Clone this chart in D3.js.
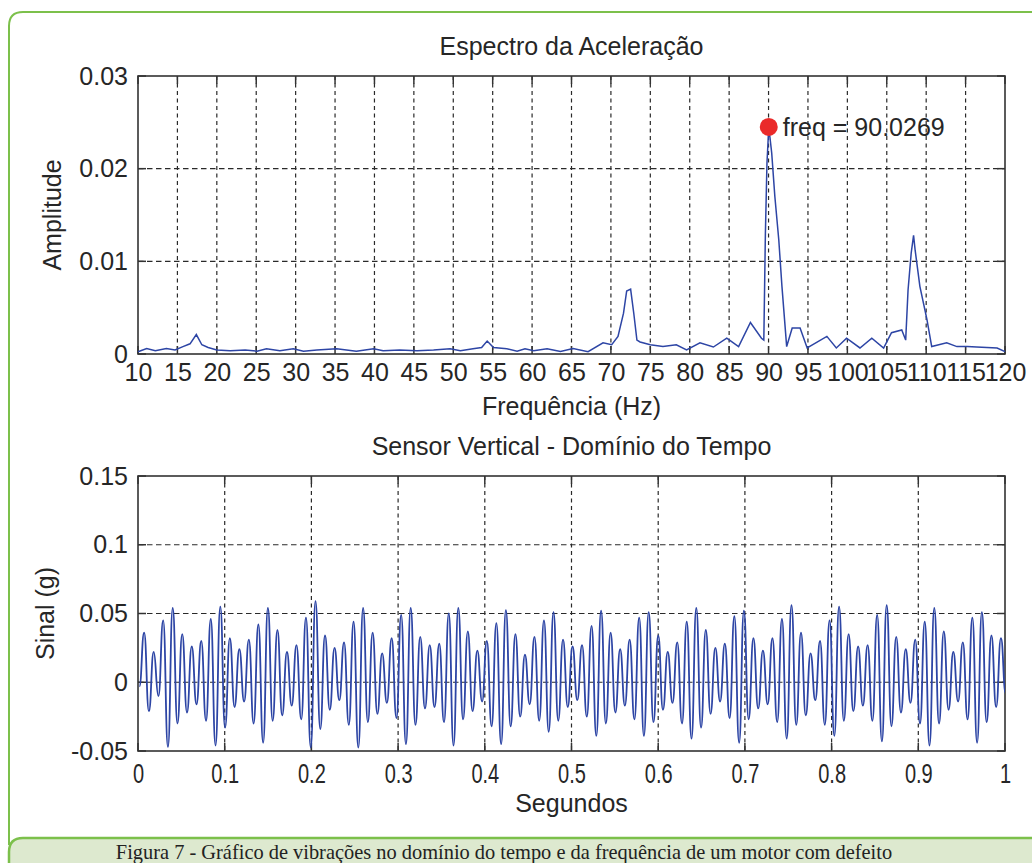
<!DOCTYPE html>
<html>
<head>
<meta charset="utf-8">
<script src="https://cdn.jsdelivr.net/npm/d3@7"></script>
<style>
    body { margin: 0; background: #fff; }
    svg { display: block; }
    text { font-family: "Liberation Sans", Arial, sans-serif; fill: #262626; }
</style>
</head>
<body>
<div id="vis"></div>
<script>
// spectrum
const specFreq = [10, 11.1, 12.2, 13.6, 14.7, 15.7, 16.6, 17.4, 18.1, 18.9, 20, 21.7, 23.6, 25.1, 26.3, 28,
    29.7, 31, 32.7, 35.2, 37.7, 39.9, 41.1, 43.2, 45.4, 47.5, 49.6, 50.9, 52.5, 53.6, 54.3, 55.1, 56.8,
    58.1, 59.1, 60.2, 61.9, 63.6, 65.2, 67.1, 69, 70.1, 70.9, 71.6, 72, 72.5, 72.9, 73.3, 73.7, 75, 76.6,
    78.3, 79.6, 81.3, 83, 84.7, 86.2, 87.7, 89.1, 89.4, 89.6, 89.8, 90.03, 90.4, 90.8, 91.3, 91.7, 92.3,
    93, 94, 94.9, 97.4, 98.6, 99.9, 101.6, 103.1, 104.6, 105.6, 106.9, 107.4, 107.7, 108.1, 108.4, 108.6,
    109.2, 110.1, 110.7, 112.6, 113.9, 115.2, 116.4, 119, 120];
const specAmp = [0.00025, 0.0006, 0.00036, 0.0006, 0.00043, 0.0008, 0.0011, 0.0021, 0.001, 0.0007, 0.00043,
    0.00036, 0.00043, 0.0003, 0.00057, 0.00036, 0.00057, 0.0003, 0.00043, 0.00057, 0.0003, 0.00057, 0.00036,
    0.00043, 0.00036, 0.00043, 0.00057, 0.00036, 0.00057, 0.0007, 0.0014, 0.0007, 0.00057, 0.0003, 0.00057,
    0.00036, 0.00057, 0.00027, 0.0006, 0.00025, 0.0012, 0.001, 0.0019, 0.0044, 0.0068, 0.007, 0.0044, 0.0015,
    0.0013, 0.001, 0.0008, 0.001, 0.00043, 0.0012, 0.00075, 0.0017, 0.0008, 0.0034, 0.0017, 0.0015, 0.013,
    0.0206, 0.0245, 0.0217, 0.017, 0.0123, 0.0073, 0.0008, 0.0028, 0.0028, 0.00065, 0.0019, 0.00065, 0.0017,
    0.00065, 0.0017, 0.00065, 0.0023, 0.0026, 0.0015, 0.0069, 0.0109, 0.0128, 0.0112, 0.0073, 0.0037, 0.0008,
    0.0012, 0.0008, 0.0008, 0.00075, 0.00065, 0.00025];
const peakFreq = 90.0269;
const peakAmp = 0.0245;
const freqTicks = [10, 15, 20, 25, 30, 35, 40, 45, 50, 55, 60, 65, 70, 75, 80, 85, 90, 95, 100, 105, 110, 115, 120];
const ampTicks = [0, 0.01, 0.02, 0.03];

// time signal: successive peaks and troughs, one every half cycle
const tStart = 0.0016;
const halfPeriod = 0.00549;
const signal = [
    -0.003, 0.036, -0.021, 0.022, -0.010, 0.045, -0.047,
    0.054, -0.030, 0.035, -0.022, 0.026, -0.016, 0.030, -0.028, 0.046, -0.046,
    0.055, -0.033, 0.032, -0.018, 0.024, -0.014, 0.031, -0.030, 0.042, -0.044,
    0.054, -0.028, 0.038, -0.024, 0.022, -0.017, 0.027, -0.027, 0.047, -0.0475,
    0.059, -0.034, 0.034, -0.020, 0.025, -0.013, 0.029, -0.031, 0.044, -0.0475,
    0.054, -0.029, 0.036, -0.023, 0.021, -0.015, 0.032, -0.026, 0.049, -0.045,
    0.054, -0.031, 0.033, -0.019, 0.027, -0.018, 0.028, -0.029, 0.050, -0.046,
    0.054, -0.027, 0.037, -0.021, 0.023, -0.014, 0.030, -0.032, 0.043, -0.045,
    0.0525, -0.032, 0.035, -0.025, 0.020, -0.016, 0.033, -0.028, 0.045, -0.036,
    0.051, -0.028, 0.031, -0.018, 0.026, -0.013, 0.027, -0.025, 0.041, -0.039,
    0.052, -0.030, 0.036, -0.022, 0.024, -0.017, 0.031, -0.027, 0.047, -0.039,
    0.051, -0.029, 0.034, -0.020, 0.022, -0.015, 0.029, -0.030, 0.044, -0.041,
    0.054, -0.033, 0.038, -0.023, 0.025, -0.014, 0.028, -0.026, 0.048, -0.044,
    0.052, -0.027, 0.032, -0.019, 0.023, -0.016, 0.032, -0.029, 0.046, -0.041,
    0.056, -0.031, 0.036, -0.024, 0.021, -0.013, 0.030, -0.031, 0.045, -0.039,
    0.055, -0.028, 0.035, -0.021, 0.026, -0.017, 0.027, -0.028, 0.049, -0.043,
    0.056, -0.032, 0.033, -0.022, 0.024, -0.015, 0.031, -0.030, 0.044, -0.046,
    0.054, -0.030, 0.037, -0.020, 0.022, -0.014, 0.029, -0.027, 0.047, -0.044,
    0.051, -0.029, 0.034, -0.018, 0.032, -0.008
];
const timeTicks = [0, 0.1, 0.2, 0.3, 0.4, 0.5, 0.6, 0.7, 0.8, 0.9, 1];
const sigTicks = [-0.05, 0, 0.05, 0.1, 0.15];

const caption = "Figura 7 - Gráfico de vibrações no domínio do tempo e da frequência de um motor com defeito";

const W = 1032, H = 863;
const lineColor = "#2d45a5";
const gridColor = "#2a2a2a";

const svg = d3.select("#vis").append("svg")
    .attr("width", W)
    .attr("height", H);

// green frame and caption strip
svg.append("path")
    .attr("d", "M9,845 V26 Q9,12 23,12 H1040")
    .attr("fill", "none")
    .attr("stroke", "#7cc04b")
    .attr("stroke-width", 2);

svg.append("path")
    .attr("d", "M9,875 V852 Q9,838 23,838 H1040 V875 Z")
    .attr("fill", "#dde9cf")
    .attr("stroke", "#7cc04b")
    .attr("stroke-width", 2.5);

svg.append("text")
    .attr("x", 504)
    .attr("y", 859)
    .attr("text-anchor", "middle")
    .style("font-family", "'Liberation Serif', 'Times New Roman', serif")
    .style("font-size", "20.4px")
    .style("fill", "#222")
    .text(caption);

const plainFmt = d => String(d);

function drawPanel(p) {
    const x = d3.scaleLinear().domain(p.xDomain).range([p.left, p.right]);
    const y = d3.scaleLinear().domain(p.yDomain).range([p.bottom, p.top]);
    const g = svg.append("g");

    // dashed grid on the inner ticks
    g.append("g").selectAll("line")
        .data(p.xTicks.filter(v => v > p.xDomain[0] && v < p.xDomain[1]))
        .join("line")
        .attr("x1", d => x(d)).attr("x2", d => x(d))
        .attr("y1", p.top).attr("y2", p.bottom)
        .attr("stroke", gridColor)
        .attr("stroke-width", 1.2)
        .attr("stroke-dasharray", "4,3.5");

    g.append("g").selectAll("line")
        .data(p.yTicks.filter(v => v > p.yDomain[0] && v < p.yDomain[1]))
        .join("line")
        .attr("x1", p.left).attr("x2", p.right)
        .attr("y1", d => y(d)).attr("y2", d => y(d))
        .attr("stroke", gridColor)
        .attr("stroke-width", 1.2)
        .attr("stroke-dasharray", "5.5,3.5");

    // inward tick marks on all four sides
    const tk = 8;
    const ticks = g.append("g").attr("stroke", "#333").attr("stroke-width", 1.5);
    p.xTicks.forEach(v => {
        ticks.append("line").attr("x1", x(v)).attr("x2", x(v)).attr("y1", p.bottom).attr("y2", p.bottom - tk);
        ticks.append("line").attr("x1", x(v)).attr("x2", x(v)).attr("y1", p.top).attr("y2", p.top + tk);
    });
    p.yTicks.forEach(v => {
        ticks.append("line").attr("x1", p.left).attr("x2", p.left + tk).attr("y1", y(v)).attr("y2", y(v));
        ticks.append("line").attr("x1", p.right).attr("x2", p.right - tk).attr("y1", y(v)).attr("y2", y(v));
    });

    // tick labels through d3 axes
    const xa = g.append("g")
        .attr("transform", `translate(0,${p.bottom})`)
        .call(d3.axisBottom(x).tickValues(p.xTicks).tickSize(0).tickPadding(p.xPad).tickFormat(plainFmt));
    xa.select(".domain").remove();
    xa.selectAll("text")
        .attr("font-size", p.xFont)
        .attr("font-family", "Liberation Sans, Arial, sans-serif")
        .attr("fill", "#262626");
    if (p.xSquash) {
        xa.selectAll(".tick text")
            .attr("transform", function () {
                const ty = +d3.select(this).attr("y");
                return `translate(0,${ty}) scale(${p.xSquash},1.1) translate(0,${-ty})`;
            });
    }

    const ya = g.append("g")
        .attr("transform", `translate(${p.left},0)`)
        .call(d3.axisLeft(y).tickValues(p.yTicks).tickSize(0).tickPadding(10).tickFormat(plainFmt));
    ya.select(".domain").remove();
    ya.selectAll("text")
        .attr("font-size", 25)
        .attr("font-family", "Liberation Sans, Arial, sans-serif")
        .attr("fill", "#262626");

    // box
    g.append("rect")
        .attr("x", p.left).attr("y", p.top)
        .attr("width", p.right - p.left).attr("height", p.bottom - p.top)
        .attr("fill", "none")
        .attr("stroke", "#333")
        .attr("stroke-width", 1.6);

    // titles
    g.append("text")
        .attr("x", (p.left + p.right) / 2).attr("y", p.titleY)
        .attr("text-anchor", "middle")
        .style("font-size", "25px")
        .text(p.title);
    g.append("text")
        .attr("x", (p.left + p.right) / 2).attr("y", p.xLabelY)
        .attr("text-anchor", "middle")
        .style("font-size", "25px")
        .text(p.xLabel);
    g.append("text")
        .attr("transform", `translate(${p.yLabelX},${(p.top + p.bottom) / 2}) rotate(-90)`)
        .attr("text-anchor", "middle")
        .style("font-size", "25px")
        .text(p.yLabel);

    return { x, y, g };
}

// upper panel: spectrum
const specPanel = drawPanel({
    left: 138, right: 1005, top: 76, bottom: 354,
    xDomain: [10, 120], yDomain: [0, 0.03],
    xTicks: freqTicks, yTicks: ampTicks,
    xPad: 9, xFont: 25,
    title: "Espectro da Aceleração", titleY: 55,
    xLabel: "Frequência (Hz)", xLabelY: 415,
    yLabel: "Amplitude", yLabelX: 61
});

const specLine = d3.line()
    .x((d, i) => specPanel.x(specFreq[i]))
    .y(d => specPanel.y(d));

specPanel.g.append("path")
    .datum(specAmp)
    .attr("d", specLine)
    .attr("fill", "none")
    .attr("stroke", lineColor)
    .attr("stroke-width", 1.5);

specPanel.g.append("circle")
    .attr("cx", specPanel.x(peakFreq))
    .attr("cy", specPanel.y(peakAmp))
    .attr("r", 9)
    .attr("fill", "#ea2a2a");

specPanel.g.append("text")
    .attr("x", specPanel.x(peakFreq) + 14)
    .attr("y", specPanel.y(peakAmp) + 9)
    .style("font-size", "25px")
    .text("freq = " + peakFreq);

// lower panel: time signal
const timePanel = drawPanel({
    left: 138, right: 1005, top: 476, bottom: 751,
    xDomain: [0, 1], yDomain: [-0.05, 0.15],
    xTicks: timeTicks, yTicks: sigTicks,
    xPad: 12, xFont: 25, xSquash: 0.8,
    title: "Sensor Vertical - Domínio do Tempo", titleY: 455,
    xLabel: "Segundos", xLabelY: 812,
    yLabel: "Sinal (g)", yLabelX: 54
});

svg.append("clipPath").attr("id", "clipT")
    .append("rect").attr("x", 138).attr("y", 476).attr("width", 867).attr("height", 275);

const sigLine = d3.line()
    .curve(d3.curveBumpX)
    .x((d, i) => timePanel.x(tStart + i * halfPeriod))
    .y(d => timePanel.y(d));

timePanel.g.append("path")
    .datum(signal)
    .attr("clip-path", "url(#clipT)")
    .attr("d", sigLine)
    .attr("fill", "none")
    .attr("stroke", lineColor)
    .attr("stroke-width", 1.8);
</script>
</body>
</html>
